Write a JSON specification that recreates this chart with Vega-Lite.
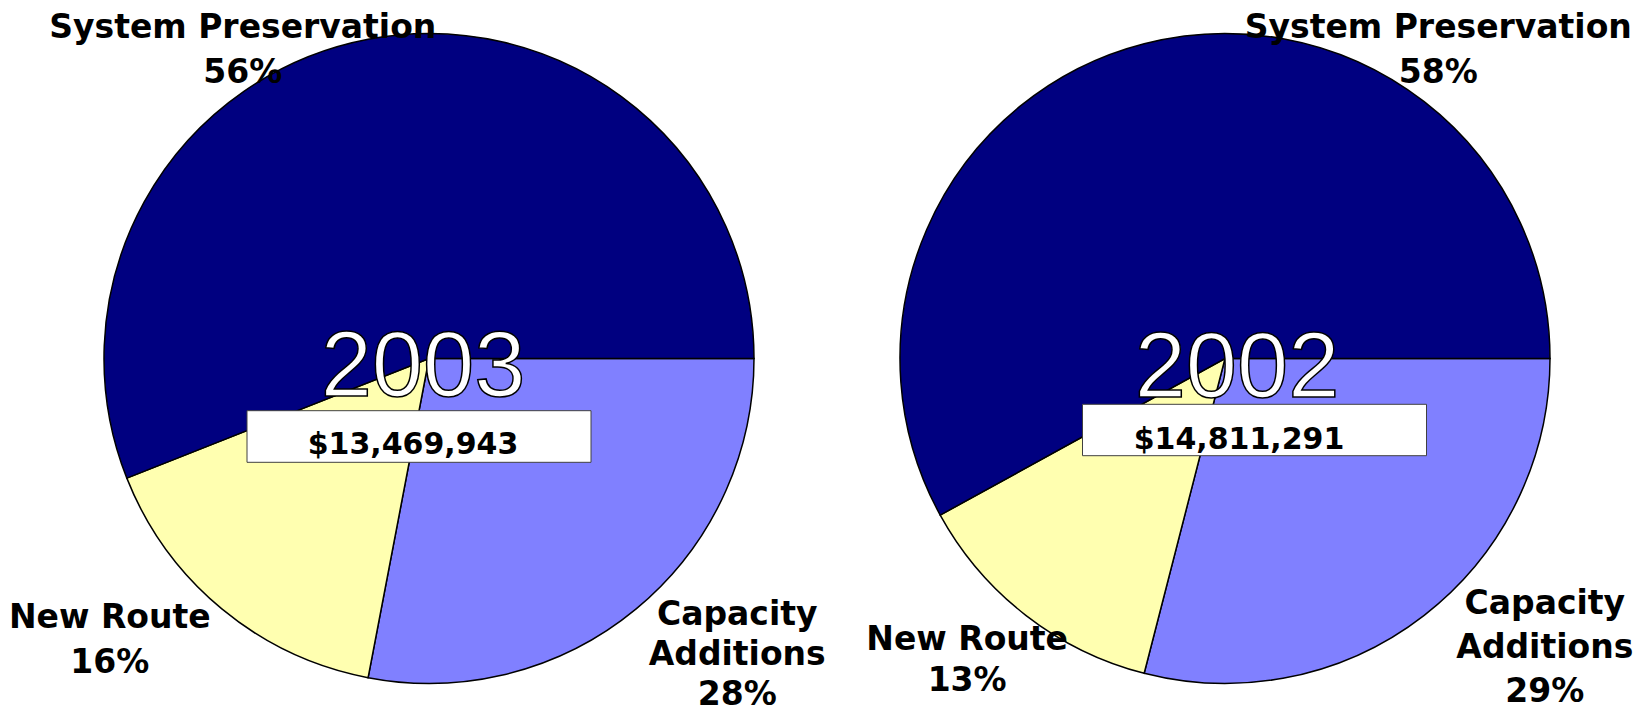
{
  "$schema": "https://vega.github.io/schema/vega-lite/v6.json",
  "padding": {"left": 0, "top": 10, "right": 0, "bottom": 0},
  "spacing": 0,
  "bounds": "flush",
  "background": "white",
  "config": {"view": {"stroke": null}},
  "datasets": {
    "d2003": [
      {"year": "2003", "total": "$13,469,943", "category": "Capacity Additions", "pct": 28, "ord": 1, "label": "Capacity\nAdditions\n28%"},
      {"year": "2003", "total": "$13,469,943", "category": "New Route", "pct": 16, "ord": 2, "label": "New Route\n16%"},
      {"year": "2003", "total": "$13,469,943", "category": "System Preservation", "pct": 56, "ord": 3, "label": "System Preservation\n56%"}
    ],
    "d2002": [
      {"year": "2002", "total": "$14,811,291", "category": "Capacity Additions", "pct": 29, "ord": 1, "label": "Capacity\nAdditions\n29%"},
      {"year": "2002", "total": "$14,811,291", "category": "New Route", "pct": 13, "ord": 2, "label": "New Route\n13%"},
      {"year": "2002", "total": "$14,811,291", "category": "System Preservation", "pct": 58, "ord": 3, "label": "System Preservation\n58%"}
    ]
  },
  "hconcat": [
    {
      "width": 858,
      "height": 697,
      "data": {"name": "d2003"},
      "layer": [
        {
          "mark": {"type": "arc", "radius": 325, "stroke": "black", "strokeWidth": 1.5},
          "encoding": {
            "theta": {"field": "pct", "type": "quantitative", "stack": true, "scale": {"range": [1.5708, 7.854]}},
            "order": {"field": "ord", "type": "quantitative"},
            "color": {"field": "category", "type": "nominal", "legend": null,
              "scale": {"domain": ["Capacity Additions", "New Route", "System Preservation"], "range": ["#8080FF", "#FFFFB0", "#000080"]}}
          }
        },
        {
          "transform": [{"filter": "datum.ord == 1"}],
          "mark": {"type": "text", "font": "Liberation Sans", "fontSize": 92, "fill": "white", "stroke": "black", "strokeWidth": 1.5, "align": "center", "baseline": "alphabetic", "dx": -6, "dy": 37},
          "encoding": {"text": {"field": "year", "type": "nominal"}}
        },
        {
          "transform": [{"filter": "datum.ord == 1"}],
          "mark": {"type": "point", "shape": "M-0.91,0.261H0.81V0.519H-0.91Z", "size": 160000, "filled": true, "fill": "white", "stroke": "#404040", "strokeWidth": 1, "opacity": 1},
          "encoding": {}
        },
        {
          "transform": [{"filter": "datum.ord == 1"}],
          "mark": {"type": "text", "font": "DejaVu Sans", "fontWeight": "bold", "fontSize": 30, "fill": "black", "align": "center", "baseline": "alphabetic", "dx": -16, "dy": 95},
          "encoding": {"text": {"field": "total", "type": "nominal"}}
        },
        {
          "mark": {"type": "text", "radius": 220, "font": "DejaVu Sans", "fontWeight": "bold", "lineBreak": "\n", "lineHeight": 45, "align": "center", "baseline": "middle", "fill": "black", "dx": -145, "dy": -114},
          "encoding": {
            "theta": {"field": "pct", "type": "quantitative", "stack": true, "scale": {"range": [1.5708, 7.854]}},
            "order": {"field": "ord", "type": "quantitative"},
            "size": {"condition": {"test": "datum.category === 'System Preservation'", "value": 33}, "value": 0},
            "text": {"condition": {"test": "datum.category === 'System Preservation'", "field": "label"}, "value": ""}
          }
        },
        {
          "mark": {"type": "text", "radius": 220, "font": "DejaVu Sans", "fontWeight": "bold", "lineBreak": "\n", "lineHeight": 45, "align": "center", "baseline": "middle", "fill": "black", "dx": -179, "dy": 90},
          "encoding": {
            "theta": {"field": "pct", "type": "quantitative", "stack": true, "scale": {"range": [1.5708, 7.854]}},
            "order": {"field": "ord", "type": "quantitative"},
            "size": {"condition": {"test": "datum.category === 'New Route'", "value": 33}, "value": 0},
            "text": {"condition": {"test": "datum.category === 'New Route'", "field": "label"}, "value": ""}
          }
        },
        {
          "mark": {"type": "text", "radius": 220, "font": "DejaVu Sans", "fontWeight": "bold", "lineBreak": "\n", "lineHeight": 40, "align": "center", "baseline": "middle", "fill": "black", "dx": 168, "dy": 87},
          "encoding": {
            "theta": {"field": "pct", "type": "quantitative", "stack": true, "scale": {"range": [1.5708, 7.854]}},
            "order": {"field": "ord", "type": "quantitative"},
            "size": {"condition": {"test": "datum.category === 'Capacity Additions'", "value": 33}, "value": 0},
            "text": {"condition": {"test": "datum.category === 'Capacity Additions'", "field": "label"}, "value": ""}
          }
        }
      ]
    },
    {
      "width": 734,
      "height": 697,
      "data": {"name": "d2002"},
      "layer": [
        {
          "mark": {"type": "arc", "radius": 325, "stroke": "black", "strokeWidth": 1.5},
          "encoding": {
            "theta": {"field": "pct", "type": "quantitative", "stack": true, "scale": {"range": [1.5708, 7.854]}},
            "order": {"field": "ord", "type": "quantitative"},
            "color": {"field": "category", "type": "nominal", "legend": null,
              "scale": {"domain": ["Capacity Additions", "New Route", "System Preservation"], "range": ["#8080FF", "#FFFFB0", "#000080"]}}
          }
        },
        {
          "transform": [{"filter": "datum.ord == 1"}],
          "mark": {"type": "text", "font": "Liberation Sans", "fontSize": 92, "fill": "white", "stroke": "black", "strokeWidth": 1.5, "align": "center", "baseline": "alphabetic", "dx": 12, "dy": 38},
          "encoding": {"text": {"field": "year", "type": "nominal"}}
        },
        {
          "transform": [{"filter": "datum.ord == 1"}],
          "mark": {"type": "point", "shape": "M-0.7125,0.229H1.0075V0.486H-0.7125Z", "size": 160000, "filled": true, "fill": "white", "stroke": "#404040", "strokeWidth": 1, "opacity": 1},
          "encoding": {}
        },
        {
          "transform": [{"filter": "datum.ord == 1"}],
          "mark": {"type": "text", "font": "DejaVu Sans", "fontWeight": "bold", "fontSize": 30, "fill": "black", "align": "center", "baseline": "alphabetic", "dx": 14, "dy": 90},
          "encoding": {"text": {"field": "total", "type": "nominal"}}
        },
        {
          "mark": {"type": "text", "radius": 220, "font": "DejaVu Sans", "fontWeight": "bold", "lineBreak": "\n", "lineHeight": 45, "align": "center", "baseline": "middle", "fill": "black", "dx": 268, "dy": -117},
          "encoding": {
            "theta": {"field": "pct", "type": "quantitative", "stack": true, "scale": {"range": [1.5708, 7.854]}},
            "order": {"field": "ord", "type": "quantitative"},
            "size": {"condition": {"test": "datum.category === 'System Preservation'", "value": 33}, "value": 0},
            "text": {"condition": {"test": "datum.category === 'System Preservation'", "field": "label"}, "value": ""}
          }
        },
        {
          "mark": {"type": "text", "radius": 220, "font": "DejaVu Sans", "fontWeight": "bold", "lineBreak": "\n", "lineHeight": 41, "align": "center", "baseline": "middle", "fill": "black", "dx": -123, "dy": 108},
          "encoding": {
            "theta": {"field": "pct", "type": "quantitative", "stack": true, "scale": {"range": [1.5708, 7.854]}},
            "order": {"field": "ord", "type": "quantitative"},
            "size": {"condition": {"test": "datum.category === 'New Route'", "value": 33}, "value": 0},
            "text": {"condition": {"test": "datum.category === 'New Route'", "field": "label"}, "value": ""}
          }
        },
        {
          "mark": {"type": "text", "radius": 220, "font": "DejaVu Sans", "fontWeight": "bold", "lineBreak": "\n", "lineHeight": 44, "align": "center", "baseline": "middle", "fill": "black", "dx": 185, "dy": 72},
          "encoding": {
            "theta": {"field": "pct", "type": "quantitative", "stack": true, "scale": {"range": [1.5708, 7.854]}},
            "order": {"field": "ord", "type": "quantitative"},
            "size": {"condition": {"test": "datum.category === 'Capacity Additions'", "value": 33}, "value": 0},
            "text": {"condition": {"test": "datum.category === 'Capacity Additions'", "field": "label"}, "value": ""}
          }
        }
      ]
    }
  ]
}
